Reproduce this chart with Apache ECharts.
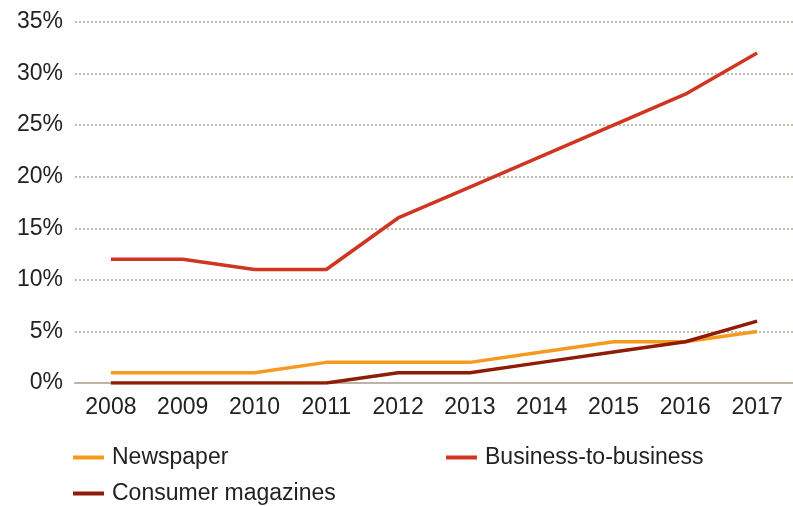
<!DOCTYPE html>
<html>
<head>
<meta charset="utf-8">
<script src="https://cdn.jsdelivr.net/npm/echarts@6/dist/echarts.min.js"></script>
<style>
  html, body { margin: 0; padding: 0; background: #fff; }
  #chart { width: 793px; height: 506px; }
</style>
</head>
<body>
<div id="chart"></div>
<script>
const years = ["2008", "2009", "2010", "2011", "2012", "2013", "2014", "2015", "2016", "2017"];
const newspaper = [1, 1, 1, 2, 2, 2, 3, 4, 4, 5];
const businessToBusiness = [12, 12, 11, 11, 16, 19, 22, 25, 28, 32];
const consumerMagazines = [0, 0, 0, 0, 1, 1, 2, 3, 4, 6];

const font = "Liberation Sans, Arial, Helvetica, sans-serif";
const chart = echarts.init(document.getElementById("chart"));

function lineSeries(name, data, color) {
  return {
    name: name,
    type: "line",
    data: data,
    symbol: "none",
    lineStyle: { color: color, width: 3.5 },
    itemStyle: { color: color },
    z: 3
  };
}

function legendAt(name, left, top) {
  return {
    left: left, top: top, padding: 0,
    icon: "rect", itemWidth: 31, itemHeight: 4,
    textStyle: { color: "#222", fontSize: 23, fontFamily: font, padding: [0, 0, 0, 3] },
    data: [name]
  };
}

chart.setOption({
  animation: false,
  grid: { left: 75, right: 0, top: 22, bottom: 123 },
  xAxis: {
    type: "category",
    data: years,
    boundaryGap: true,
    axisLine: { lineStyle: { color: "#bcb2a6", width: 2 } },
    axisTick: { show: false },
    axisLabel: { color: "#222", fontSize: 23, fontFamily: font, margin: 13 }
  },
  yAxis: {
    type: "value",
    min: 0,
    max: 35,
    interval: 5,
    axisLine: { show: false },
    axisTick: { show: false },
    axisLabel: { color: "#222", fontSize: 23, fontFamily: font, margin: 12, formatter: "{value}%" },
    splitLine: { lineStyle: { color: "#c4bcb2", type: [2, 2], width: 2 } }
  },
  legend: [
    legendAt("Newspaper", 73, 446),
    legendAt("Business-to-business", 446, 446),
    legendAt("Consumer magazines", 73, 482)
  ],
  series: [
    lineSeries("Newspaper", newspaper, "#f59a1f"),
    lineSeries("Business-to-business", businessToBusiness, "#cf3520"),
    lineSeries("Consumer magazines", consumerMagazines, "#8e1c06")
  ]
});
</script>
</body>
</html>
